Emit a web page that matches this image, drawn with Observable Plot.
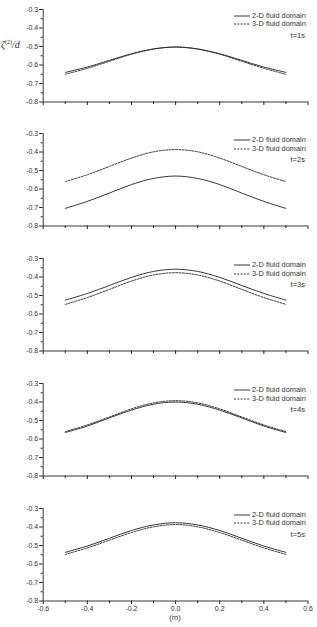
<!DOCTYPE html>
<html>
<head>
<meta charset="utf-8">
<script src="https://cdn.jsdelivr.net/npm/d3@7"></script>
<script src="https://cdn.jsdelivr.net/npm/@observablehq/plot@0.6"></script>
<style>
  html, body { margin: 0; padding: 0; background: #fff; }
  #fig { position: relative; width: 317px; height: 627px; overflow: hidden; background: #fff;
         font-family: "Liberation Sans", Arial, sans-serif; color: #333; }
  #fig svg { position: absolute; left: 0; overflow: visible; }
  .leg { position: absolute; font-size: 7.4px; line-height: 1; white-space: nowrap; color: #333; }
  .leg svg { position: static !important; vertical-align: middle; margin-right: 2px; }
  .tlab { position: absolute; font-size: 7.6px; line-height: 1; color: #333; text-align: right; }
  .ylab { position: absolute; font-family: "Liberation Serif", "DejaVu Serif", serif; font-style: italic;
          font-size: 10px; color: #333; white-space: nowrap; }
</style>
</head>
<body>
<div id="fig"></div>
<script>
// Wave elevation along the section (m) for each time step
const xPos = [-0.5, -0.4, -0.3, -0.2, -0.1, 0.0, 0.1, 0.2, 0.3, 0.4, 0.5];

const fluid2D_t1 = [-0.640, -0.611, -0.575, -0.539, -0.513, -0.503, -0.513, -0.539, -0.575, -0.611, -0.640];
const fluid3D_t1 = [-0.650, -0.618, -0.580, -0.542, -0.514, -0.503, -0.514, -0.542, -0.580, -0.618, -0.650];

const fluid2D_t2 = [-0.705, -0.667, -0.622, -0.576, -0.543, -0.530, -0.543, -0.576, -0.622, -0.667, -0.705];
const fluid3D_t2 = [-0.560, -0.523, -0.478, -0.433, -0.399, -0.387, -0.399, -0.433, -0.478, -0.523, -0.560];

const fluid2D_t3 = [-0.525, -0.489, -0.446, -0.402, -0.370, -0.358, -0.370, -0.402, -0.446, -0.489, -0.525];
const fluid3D_t3 = [-0.548, -0.511, -0.467, -0.422, -0.389, -0.377, -0.389, -0.422, -0.467, -0.511, -0.548];

const fluid2D_t4 = [-0.565, -0.530, -0.486, -0.444, -0.412, -0.400, -0.412, -0.444, -0.486, -0.530, -0.565];
const fluid3D_t4 = [-0.560, -0.524, -0.481, -0.437, -0.405, -0.393, -0.405, -0.437, -0.481, -0.524, -0.560];

const fluid2D_t5 = [-0.537, -0.503, -0.461, -0.419, -0.389, -0.377, -0.389, -0.419, -0.461, -0.503, -0.537];
const fluid3D_t5 = [-0.548, -0.513, -0.471, -0.430, -0.399, -0.387, -0.399, -0.430, -0.471, -0.513, -0.548];

const timeLabels = ["t=1s", "t=2s", "t=3s", "t=4s", "t=5s"];
const seriesNames = ["2-D fluid domain", "3-D fluid domain"];

const xTicks = [-0.6, -0.4, -0.2, 0.0, 0.2, 0.4, 0.6];
const xMinor = [-0.5, -0.3, -0.1, 0.1, 0.3, 0.5];
const yTicks = [-0.8, -0.7, -0.6, -0.5, -0.4, -0.3];
const yMinor = [-0.75, -0.65, -0.55, -0.45, -0.35];

const panels2D = [fluid2D_t1, fluid2D_t2, fluid2D_t3, fluid2D_t4, fluid2D_t5];
const panels3D = [fluid3D_t1, fluid3D_t2, fluid3D_t3, fluid3D_t4, fluid3D_t5];

// layout
const W = 317;
const panelTop = [8.5, 133.3, 258.3, 382.7, 507.5]; // page y of the -0.3 level
const plotH = 92.5;
const mLeft = 42.7, mRight = 9.5, mTop = 6;
const ink = "#222";
const dash = "2,1.3";

const fig = document.getElementById("fig");
const fmt = d => d === 0 ? "0.0" : d3.format(".1f")(d).replace("−", "-");

panels2D.forEach((vals2, i) => {
  const last = i === panels2D.length - 1;
  const mBottom = last ? 26 : 8;
  const rows = [
    ...xPos.map((x, k) => ({x, y: vals2[k], s: seriesNames[0]})),
    ...xPos.map((x, k) => ({x, y: panels3D[i][k], s: seriesNames[1]}))
  ];
  const chart = Plot.plot({
    width: W,
    height: plotH + mTop + mBottom,
    marginLeft: mLeft,
    marginRight: mRight,
    marginTop: mTop,
    marginBottom: mBottom,
    style: {fontFamily: "Liberation Sans, Arial, sans-serif", fontSize: "7px", color: "#333", background: "transparent"},
    x: {domain: [-0.6, 0.6]},
    y: {domain: [-0.8, -0.3]},
    marks: [
      Plot.axisY(yTicks, {tickSize: 3.5, tickPadding: 1.5, tickFormat: fmt, stroke: ink, fill: "#333", label: null}),
      Plot.axisY(yMinor, {tickSize: 2, tickFormat: () => "", stroke: ink, label: null}),
      Plot.axisX(xTicks, {tickSize: 3.5, tickPadding: 2, stroke: ink, fill: "#333",
                          tickFormat: last ? fmt : () => "", label: null}),
      Plot.axisX(xMinor, {tickSize: 2.5, tickFormat: () => "", stroke: ink, label: null}),
      Plot.ruleX([-0.6], {stroke: ink, strokeWidth: 0.9}),
      Plot.ruleY([-0.8], {stroke: ink, strokeWidth: 0.9}),
      Plot.line(rows.filter(d => d.s === seriesNames[0]),
        {x: "x", y: "y", stroke: ink, strokeWidth: 0.9, curve: "catmull-rom"}),
      Plot.line(rows.filter(d => d.s === seriesNames[1]),
        {x: "x", y: "y", stroke: ink, strokeWidth: 0.9, strokeDasharray: dash, curve: "catmull-rom"})
    ]
  });
  chart.style.top = (panelTop[i] - mTop) + "px";
  fig.appendChild(chart);

  // legend entries
  seriesNames.forEach((name, j) => {
    const el = document.createElement("div");
    el.className = "leg";
    el.style.left = "234px";
    el.style.top = (panelTop[i] + 3 + j * 8.8) + "px";
    el.innerHTML = `<svg width="16" height="4"><line x1="0" x2="16" y1="2" y2="2" stroke="${ink}" stroke-width="0.9" ${j ? `stroke-dasharray="${dash}"` : ""}/></svg>${name}`;
    fig.appendChild(el);
  });
  const t = document.createElement("div");
  t.className = "tlab";
  t.style.right = (W - 305) + "px";
  t.style.top = (panelTop[i] + 23) + "px";
  t.textContent = timeLabels[i];
  fig.appendChild(t);

  if (last) {
    const u = document.createElement("div");
    u.className = "tlab";
    u.style.left = "0px";
    u.style.width = (2 * 175) + "px";
    u.style.textAlign = "center";
    u.style.top = "613.5px";
    u.textContent = "(m)";
    fig.appendChild(u);
  }
});

// y-axis title at the left edge of the figure
const yl = document.createElement("div");
yl.className = "ylab";
yl.style.left = "1px";
yl.style.top = "39px";
yl.innerHTML = "ζ<sup style='font-size:6px;font-style:normal'>(2)</sup>/<i>d</i>";
fig.appendChild(yl);
</script>
</body>
</html>
